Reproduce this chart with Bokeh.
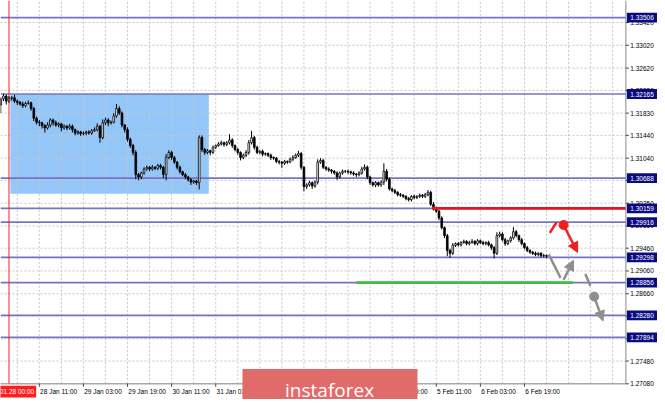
import numpy as np
from bokeh.plotting import figure
from bokeh.models import Range1d, Arrow, NormalHead
from bokeh.core.properties import value
from bokeh.embed import file_html
from bokeh.resources import INLINE

# ---------------- data ----------------
first_bar = -3            # bar index of the first candle (index 0 = 2020.01.28 00:00)
first_open = 1.3197
closes = [
    1.3208, 1.3213, 1.3204,
    1.3209, 1.3210, 1.3204, 1.3202, 1.3199, 1.3196, 1.3200, 1.3201, 1.3191, 1.3174,
    1.3167, 1.3166, 1.3161, 1.3157, 1.3162, 1.3171, 1.3166, 1.3162, 1.3164, 1.3157,
    1.3160, 1.3157, 1.3160, 1.3154, 1.3148, 1.3150, 1.3147, 1.3148, 1.3150, 1.3148,
    1.3152, 1.3154, 1.3160, 1.3140, 1.3166, 1.3171, 1.3166, 1.3167, 1.3178, 1.3191,
    1.3183, 1.3162, 1.3154, 1.3137, 1.3126, 1.3114, 1.3075, 1.3071, 1.3078, 1.3085,
    1.3088, 1.3085, 1.3088, 1.3086, 1.3091, 1.3088, 1.3075, 1.3105, 1.3114, 1.3105,
    1.3097, 1.3088, 1.3080, 1.3075, 1.3071, 1.3066, 1.3062, 1.3064, 1.3061, 1.3140,
    1.3119, 1.3114, 1.3117, 1.3114, 1.3123, 1.3126, 1.3129, 1.3131, 1.3128, 1.3131,
    1.3136, 1.3126, 1.3119, 1.3114, 1.3105, 1.3109, 1.3114, 1.3131, 1.3140, 1.3123,
    1.3114, 1.3116, 1.3111, 1.3112, 1.3109, 1.3105, 1.3104, 1.3098, 1.3097, 1.3095,
    1.3098, 1.3097, 1.3102, 1.3105, 1.3109, 1.3112, 1.3088, 1.3054, 1.3057, 1.3061,
    1.3055, 1.3062, 1.3097, 1.3100, 1.3088, 1.3085, 1.3083, 1.3081, 1.3078, 1.3071,
    1.3078, 1.3081, 1.3081, 1.3080, 1.3078, 1.3076, 1.3075, 1.3078, 1.3085, 1.3088,
    1.3071, 1.3061, 1.3057, 1.3061, 1.3057, 1.3062, 1.3081, 1.3067, 1.3050, 1.3047,
    1.3044, 1.3040, 1.3039, 1.3037, 1.3033, 1.3031, 1.3037, 1.3035, 1.3037, 1.3039,
    1.3037, 1.3040, 1.3044, 1.3023, 1.3016, 1.3011, 1.2999, 1.2982, 1.2968, 1.2942,
    1.2937, 1.2951, 1.2954, 1.2952, 1.2956, 1.2958, 1.2954, 1.2956, 1.2958, 1.2954,
    1.2959, 1.2956, 1.2954, 1.2956, 1.2952, 1.2947, 1.2937, 1.2968, 1.2971, 1.2961,
    1.2954, 1.2959, 1.2964, 1.2975, 1.2968, 1.2961, 1.2954, 1.2947, 1.2942, 1.2939,
    1.2937, 1.2935, 1.2937, 1.2933, 1.2933, 1.2932,
]
# upper / lower wick lengths in pips
wick_up = [
    3, 4, 3,
    4, 3, 5, 3, 2, 4, 3, 4, 2, 3,   3, 4, 2, 3, 5, 3, 2, 4, 3, 2,
    3, 2, 4, 3, 2, 3, 2, 3, 2, 3,   3, 4, 5, 2, 6, 4, 3, 3, 5, 8,
    4, 3, 2, 4, 3, 3, 4, 3, 2, 3,   3, 2, 4, 2, 3, 3, 2, 6, 4, 3,
    3, 2, 3, 2, 3, 2, 3, 2, 2, 4,   4, 3, 3, 2, 3, 2, 3, 4, 2, 3,
    10, 3, 2, 3, 2, 3, 4, 5, 12, 3, 3, 2, 3, 2, 2, 3, 2, 2, 3, 2,
    3, 2, 3, 4, 3, 5, 3, 2, 3, 3,   2, 3, 5, 4, 3, 2, 3, 2, 2, 3,
    2, 3, 2, 3, 2, 3, 2, 3, 4, 5,   3, 2, 2, 3, 2, 3, 14, 4, 3, 2,
    3, 2, 3, 2, 2, 3, 2, 3, 2, 3,   2, 3, 4, 3, 4, 3, 2, 3, 2, 3,
    3, 4, 2, 3, 2, 3, 2, 3, 4, 2,   3, 2, 3, 2, 3, 2, 3, 6, 4, 3,
    3, 2, 3, 8, 3, 2, 3, 2, 3, 2,   2, 3, 2, 2, 3, 2,
]
wick_dn = [
    14, 4, 6,
    3, 4, 3, 5, 3, 4, 3, 2, 4, 5,   4, 6, 5, 8, 3, 4, 5, 3, 4, 6,
    3, 4, 3, 5, 4, 3, 4, 3, 4, 3,   3, 2, 3, 9, 3, 4, 6, 3, 2, 3,
    3, 4, 5, 4, 4, 5, 8, 6, 4, 3,   3, 4, 3, 3, 3, 4, 6, 10, 3, 4,
    3, 4, 3, 3, 4, 3, 5, 3, 4, 12,  4, 4, 3, 5, 3, 3, 2, 3, 4, 3,
    3, 4, 3, 4, 5, 3, 3, 4, 3, 4,   3, 3, 4, 3, 3, 4, 3, 3, 4, 8,
    3, 3, 2, 3, 2, 3, 4, 8, 4, 3,   5, 3, 4, 3, 3, 3, 3, 4, 3, 5,
    3, 3, 3, 4, 3, 3, 4, 3, 3, 3,   4, 4, 3, 4, 3, 3, 5, 4, 3, 3,
    3, 3, 3, 3, 3, 3, 3, 3, 3, 3,   3, 3, 3, 3, 4, 3, 4, 3, 4, 10,
    8, 3, 3, 3, 3, 2, 3, 3, 2, 3,   3, 3, 3, 3, 3, 4, 9, 3, 3, 3,
    4, 3, 3, 3, 3, 4, 3, 3, 3, 3,   3, 3, 3, 3, 3, 3,
]

# time axis (bar index, label)
tick_idx = [11, 27, 43, 59, 75, 91, 107, 123, 139, 155, 171, 187]
tick_lbl = ["28 Jan 11:00", "29 Jan 03:00", "29 Jan 19:00", "30 Jan 11:00",
            "31 Jan 03:00", "31 Jan 19:00", "3 Feb 11:00", "4 Feb 03:00",
            "4 Feb 19:00", "5 Feb 11:00", "6 Feb 03:00", "6 Feb 19:00"]
grid_idx = list(range(-5, 224, 8))
start_idx = 0
start_lbl = "2020.01.28 00:00"

# price axis
price_ticks = [1.33420, 1.33020, 1.32620, 1.32230, 1.31830, 1.31440, 1.31040,
               1.30650, 1.30250, 1.29850, 1.29460, 1.29060, 1.28660, 1.28270,
               1.27870, 1.27480, 1.27080]
levels = [1.33506, 1.32165, 1.30688, 1.30159, 1.29916, 1.29298, 1.28856, 1.28280, 1.27894]

# zone rectangle (bar index, price)
zone_x = [0.5, 72.5]
zone_y = [1.30417, 1.32165]
# red resistance segment and green support segment
red_seg_x = [153.5, 223.8]
red_seg_y = 1.30159
green_seg_x = [126.0, 204.5]
green_seg_y = 1.28856

# forecast sketch (bar index, price)
red_tick_x = [196.2, 198.7]
red_tick_y = [1.29729, 1.29918]
red_dot = (201.2, 1.29867)
red_arrow_end = (206.3, 1.29385)
gray_line_x = [195.8, 200.1]
gray_line_y = [1.29351, 1.28938]
gray_arrow1 = [(201.2, 1.28904), (204.8, 1.29248)]
gray_dash_x = [209.1, 210.9]
gray_dash_y = [1.29007, 1.28800]
gray_dot = (212.3, 1.28611)
gray_arrow2_end = (215.5, 1.28181)

# ---------------- layout constants (styles / positions of chart parts) ----------------
W, H = 657, 399
X0, X1 = -3.082, 235.27          # whole canvas in bar units
Y0, Y1 = 1.26805, 1.33806        # whole canvas in price units
XC = 223.8                       # right edge of the chart pane
YC = 1.27080                     # bottom edge of the chart pane
def bx(px):                      # reference pixels -> bars
    return px / 2.79
def py(px):                      # reference pixels -> price
    return px / 5813.0

FONT = value("Liberation Sans")
FS = "6.5px"
AX_COL = "#8a8a8a"
GRID_COL = "#c6c6c6"
LEVEL_COL = "#7474c6"

p = figure(width=W, height=H, output_backend="svg", toolbar_location=None,
           x_range=Range1d(X0, X1), y_range=Range1d(Y0, Y1),
           x_axis_location=None, y_axis_location=None,
           min_border=0, min_border_left=0, min_border_right=0,
           min_border_top=0, min_border_bottom=0)
p.background_fill_color = "white"
p.border_fill_color = "white"
p.outline_line_color = None
p.xgrid.visible = False
p.ygrid.visible = False

# zone rectangle
p.quad(left=[zone_x[0]], right=[zone_x[1]], bottom=[zone_y[0]], top=[zone_y[1]],
       fill_color="#94c7f8", line_color=None)

# dotted grid inside the chart pane
p.segment(x0=grid_idx, y0=[YC] * len(grid_idx), x1=grid_idx, y1=[Y1] * len(grid_idx),
          line_color=GRID_COL, line_dash="2 2", line_width=1)
p.segment(x0=[X0] * len(price_ticks), y0=price_ticks, x1=[XC] * len(price_ticks),
          y1=price_ticks, line_color=GRID_COL, line_dash="2 2", line_width=1)

# level lines
p.segment(x0=[X0] * len(levels), y0=levels, x1=[XC] * len(levels), y1=levels,
          line_color=LEVEL_COL, line_width=1.7)
# start-of-range vertical line
p.segment(x0=[start_idx], y0=[YC], x1=[start_idx], y1=[Y1], line_color="#ff2020", line_width=1)

# candles
c = np.array(closes)
o = np.array([first_open] + closes[:-1])
idx = np.arange(len(c)) + first_bar
hi = np.maximum(o, c) + np.array(wick_up) * 1e-4
lo = np.minimum(o, c) - np.array(wick_dn) * 1e-4
bull = c >= o
p.segment(x0=idx, y0=lo, x1=idx, y1=hi, line_color="black", line_width=1)
p.vbar(x=idx[bull], bottom=o[bull], top=c[bull], width=0.62,
       fill_color="white", line_color="black", line_width=0.8)
p.vbar(x=idx[~bull], bottom=c[~bull], top=o[~bull], width=0.62,
       fill_color="black", line_color="black", line_width=0.8)

# red / green segments
p.segment(x0=[red_seg_x[0]], y0=[red_seg_y], x1=[red_seg_x[1]], y1=[red_seg_y],
          line_color="#e8161b", line_width=2.6)
p.segment(x0=[green_seg_x[0]], y0=[green_seg_y], x1=[green_seg_x[1]], y1=[green_seg_y],
          line_color="#3cbf3c", line_width=2.6)

# forecast sketch
RED = "#f01e1e"
GRAY = "#8f8f8f"
p.line(red_tick_x, red_tick_y, line_color=RED, line_width=2.5)
p.add_layout(Arrow(end=NormalHead(size=10, fill_color=RED, line_color=RED),
                   x_start=red_dot[0], y_start=red_dot[1],
                   x_end=red_arrow_end[0], y_end=red_arrow_end[1],
                   line_color=RED, line_width=2.5))
p.scatter([red_dot[0]], [red_dot[1]], size=9, marker="circle",
          fill_color=RED, line_color=RED)
p.line(gray_line_x, gray_line_y, line_color=GRAY, line_width=2.5)
p.add_layout(Arrow(end=NormalHead(size=10, fill_color=GRAY, line_color=GRAY),
                   x_start=gray_arrow1[0][0], y_start=gray_arrow1[0][1],
                   x_end=gray_arrow1[1][0], y_end=gray_arrow1[1][1],
                   line_color=GRAY, line_width=2.5))
p.line(gray_dash_x, gray_dash_y, line_color=GRAY, line_width=2.5)
p.add_layout(Arrow(end=NormalHead(size=10, fill_color=GRAY, line_color=GRAY),
                   x_start=gray_dot[0], y_start=gray_dot[1],
                   x_end=gray_arrow2_end[0], y_end=gray_arrow2_end[1],
                   line_color=GRAY, line_width=2.5))
p.scatter([gray_dot[0]], [gray_dot[1]], size=9, marker="circle",
          fill_color=GRAY, line_color=GRAY)

# chart pane border
p.segment(x0=[XC, X0], y0=[YC, YC], x1=[XC, XC], y1=[Y1, YC],
          line_color=AX_COL, line_width=1)

# price scale: tick marks and labels
p.segment(x0=[XC] * len(price_ticks), y0=price_ticks,
          x1=[XC + bx(3)] * len(price_ticks), y1=price_ticks,
          line_color="#444444", line_width=1)
p.text(x=[XC + bx(4.5)] * len(price_ticks), y=price_ticks,
       text=[f"{t:.5f}" for t in price_ticks], text_align="left",
       text_baseline="middle", text_font=FONT, text_font_size=FS, text_color="black")

# time scale: tick marks and labels (MT4 style: label starts at the tick)
p.segment(x0=tick_idx, y0=[YC] * len(tick_idx), x1=tick_idx,
          y1=[YC - py(3)] * len(tick_idx), line_color="#444444", line_width=1)
p.text(x=[t + bx(0.8) for t in tick_idx], y=[YC - py(8)] * len(tick_idx),
       text=tick_lbl, text_align="left", text_baseline="middle",
       text_font=FONT, text_font_size=FS, text_color="black")

# level price boxes on the price scale
p.quad(left=[XC + bx(1)] * len(levels), right=[X1 + 1] * len(levels),
       bottom=[lv - py(5) for lv in levels], top=[lv + py(5) for lv in levels],
       fill_color="#0b0b80", line_color=None)
p.text(x=[XC + bx(4.5)] * len(levels), y=levels,
       text=[f"{lv:.5f}" for lv in levels], text_align="left",
       text_baseline="middle", text_font=FONT, text_font_size=FS, text_color="white")

# highlighted start time label
p.quad(left=[X0 - 1], right=[start_idx + bx(27.5)], bottom=[YC - py(14)],
       top=[YC - py(2)], fill_color="#ff1e1e", line_color=None)
p.text(x=[start_idx + bx(25.5)], y=[YC - py(8)], text=[start_lbl], text_align="right",
       text_baseline="middle", text_font=FONT, text_font_size=FS, text_color="white")

# watermark logo
p.quad(left=[84.7], right=[148.2], bottom=[Y0 - 0.001], top=[YC + py(15)],
       fill_color="#e16a6a", line_color=None)
p.text(x=[116.3], y=[YC - py(6)], text=["instaforex"], text_align="center",
       text_baseline="alphabetic", text_font=value("Open Sans"),
       text_font_size="19px", text_color="white")

open("out.html", "w").write(file_html(p, INLINE))
